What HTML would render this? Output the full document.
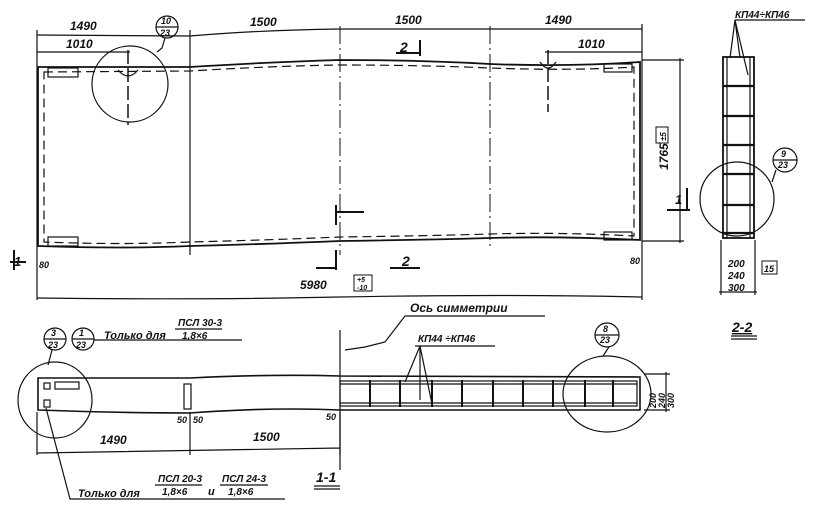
<!DOCTYPE html>
<html><head><meta charset="utf-8"><style>
html,body{margin:0;padding:0;background:#fff;width:817px;height:509px;overflow:hidden}
svg{display:block}
text{font-family:"Liberation Sans",sans-serif;font-style:italic;font-weight:bold;fill:#111}
</style></head><body>
<svg width="817" height="509" viewBox="0 0 817 509" xmlns="http://www.w3.org/2000/svg" stroke="#111" fill="none" stroke-width="1.2">
<!-- TOP PLAN -->
<!-- dimension lines -->
<path d="M37 35 L190 36 Q260 30 340 29 L490 29 L642 29"/>
<path d="M37 52 L130 52"/>
<path d="M37 30 V300 M190 30 V255 M642 24 V300"/>
<text x="70" y="30" font-size="12" stroke="none">1490</text>
<text x="250" y="26" font-size="12" stroke="none">1500</text>
<text x="395" y="24" font-size="12" stroke="none">1500</text>
<text x="545" y="24" font-size="12" stroke="none">1490</text>
<text x="66" y="48" font-size="12" stroke="none">1010</text>
<path d="M545 52 L642 52"/>
<text x="578" y="48" font-size="12" stroke="none">1010</text>
<!-- outline -->
<path d="M38 67 L190 67 Q270 62 340 60 Q420 60 490 64 Q570 67 640 62 L640 240 Q560 236 490 238 Q420 240 340 241 Q270 244 190 246 Q120 249 38 246 Z" stroke-width="1.8"/>
<path d="M44 72 L190 71 Q270 66 340 65 Q420 65 490 68 Q570 71 634 67 L634 236 Q560 232 490 234 Q420 236 340 237 Q270 240 190 242 Q120 245 44 242 Z" stroke-dasharray="9,5"/>
<!-- dash-dot verticals -->
<path d="M190 60 V252 M340 26 V255 M490 26 V250" stroke-dasharray="18,4,2,4" stroke-width="1"/>
<!-- corner rects -->
<rect x="48" y="68" width="30" height="9"/><rect x="48" y="237" width="30" height="9"/>
<rect x="604" y="64" width="28" height="8"/><rect x="604" y="232" width="28" height="8"/>
<!-- circle detail -->
<circle cx="130" cy="84" r="38"/>
<path d="M128 50 V125" stroke-dasharray="14,4" stroke-width="1.5"/>
<path d="M118 70 Q128 82 138 70"/>
<circle cx="167" cy="27" r="11"/><path d="M156 27 H178"/>
<text x="161" y="24" font-size="9" stroke="none">10</text><text x="160" y="36" font-size="9" stroke="none">23</text>
<path d="M165 38 L162 48 L157 52"/>
<path d="M548 50 V112" stroke-dasharray="14,4" stroke-width="1.5"/>
<path d="M540 62 Q548 74 556 62"/>
<!-- section marks -->
<path d="M336 205 V225 M336 212 H364" stroke-width="2"/>
<path d="M336 250 V270 M316 268 H336" stroke-width="2"/>
<path d="M396 53 H420 M420 40 V56" stroke-width="2"/>
<text x="400" y="52" font-size="14" stroke="none">2</text>
<path d="M390 268 H420" stroke-width="2"/>
<text x="402" y="266" font-size="14" stroke="none">2</text>
<path d="M10 262 H26 M14 250 V270" stroke-width="2"/>
<text x="14" y="266" font-size="13" stroke="none">1</text>
<path d="M667 210 H690 M687 188 V210" stroke-width="2"/>
<text x="675" y="204" font-size="13" stroke="none">1</text>
<!-- right dimension 1765 -->
<path d="M642 60 H684 M642 241 H684 M680 58 V243"/>
<text transform="translate(668,170) rotate(-90)" font-size="12" stroke="none">1765</text>
<rect x="656" y="127" width="12" height="16" stroke-width="1"/>
<text transform="translate(666,141) rotate(-90)" font-size="8" stroke="none">±5</text>
<!-- bottom dimension -->
<path d="M37 298 Q200 300 340 297 Q500 294 642 297"/>
<text x="300" y="289" font-size="12" stroke="none">5980</text>
<rect x="354" y="275" width="18" height="16" stroke-width="1"/>
<text x="357" y="282" font-size="7" stroke="none">+5</text><text x="357" y="290" font-size="7" stroke="none">-10</text>
<text x="39" y="268" font-size="9" stroke="none">80</text>
<text x="630" y="264" font-size="9" stroke="none">80</text>
<!-- SECTION 2-2 -->
<rect x="723" y="57" width="31" height="181" stroke-width="1.8"/>
<path d="M727 57 V238 M750 57 V238"/>
<path d="M723 86 H754 M723 116 H754 M723 145 H754 M723 174 H754 M723 205 H754 M723 233 H754" stroke-width="2.2"/>
<path d="M735 20 L730 58 M735 20 L740 58 M735 20 L748 75 M735 20 H805"/>
<text x="735" y="18" font-size="10" stroke="none">КП44÷КП46</text>
<circle cx="737" cy="199" r="37"/>
<circle cx="785" cy="160" r="12"/><path d="M773 160 H797"/>
<text x="781" y="157" font-size="9" stroke="none">9</text><text x="778" y="168" font-size="9" stroke="none">23</text>
<path d="M776 170 L772 182"/>
<path d="M721 240 V295 M755 240 V295 M719 292 H757"/>
<text x="728" y="267" font-size="10" stroke="none">200</text>
<text x="728" y="279" font-size="10" stroke="none">240</text>
<text x="728" y="291" font-size="10" stroke="none">300</text>
<rect x="762" y="261" width="15" height="13" stroke-width="1"/>
<text x="764" y="272" font-size="9" stroke="none">15</text>
<text x="732" y="332" font-size="14" stroke="none" text-decoration="underline">2-2</text>
<path d="M731 336 H757 M731 339 H757"/>
<!-- SECTION 1-1 -->
<path d="M38 378 Q120 378 190 378 Q270 374 340 376 L640 377 L640 410 L340 410 Q270 407 190 413 Q120 413 38 410 Z" stroke-width="1.6"/>
<rect x="340" y="381" width="297" height="25" stroke-width="1.2"/>
<path d="M340 384 H637 M340 403 H637"/>
<path d="M370 380 V407 M400 380 V407 M432 380 V407 M462 380 V407 M493 380 V407 M523 380 V407 M553 380 V407 M585 380 V407 M613 380 V407" stroke-width="2"/>
<rect x="184" y="384" width="7" height="25"/>
<rect x="44" y="383" width="6" height="6"/><rect x="44" y="400" width="6" height="7"/>
<rect x="55" y="382" width="24" height="7"/>
<ellipse cx="55" cy="400" rx="37" ry="38"/>
<ellipse cx="607" cy="394" rx="44" ry="38"/>
<circle cx="55" cy="339" r="11"/><path d="M44 339 H66"/>
<text x="51" y="336" font-size="9" stroke="none">3</text><text x="48" y="348" font-size="9" stroke="none">23</text>
<circle cx="83" cy="339" r="11"/><path d="M72 339 H94"/>
<text x="79" y="336" font-size="9" stroke="none">1</text><text x="76" y="348" font-size="9" stroke="none">23</text>
<path d="M94 340 H242"/>
<text x="104" y="339" font-size="11" stroke="none">Только для</text>
<text x="178" y="326" font-size="10" stroke="none">ПСЛ 30-3</text>
<path d="M175 329 H222"/>
<text x="182" y="339" font-size="10" stroke="none">1,8×6</text>
<path d="M52 350 L48 365"/>
<circle cx="607" cy="335" r="12"/><path d="M595 335 H619"/>
<text x="603" y="332" font-size="9" stroke="none">8</text><text x="600" y="343" font-size="9" stroke="none">23</text>
<path d="M609 347 L603 356"/>
<text x="410" y="312" font-size="12" stroke="none">Ось симметрии</text>
<path d="M405 316 H545 M405 316 L385 342 L365 347 L345 350"/>
<path d="M340 330 V470"/>
<text x="418" y="342" font-size="10" stroke="none">КП44 ÷КП46</text>
<path d="M415 346 H495 M420 346 L405 382 M420 346 L420 400 M420 346 L432 404"/>
<path d="M644 374 H670 M644 410 H670 M666 372 V412"/>
<text transform="translate(656,408) rotate(-90)" font-size="9" stroke="none">200</text>
<text transform="translate(665,408) rotate(-90)" font-size="9" stroke="none">240</text>
<text transform="translate(674,408) rotate(-90)" font-size="9" stroke="none">300</text>
<path d="M37 412 V455 M190 412 V455 M340 412 V455 M37 453 Q190 450 340 448"/>
<text x="100" y="444" font-size="12" stroke="none">1490</text>
<text x="253" y="441" font-size="12" stroke="none">1500</text>
<text x="177" y="423" font-size="9" stroke="none">50</text><text x="193" y="423" font-size="9" stroke="none">50</text>
<text x="326" y="420" font-size="9" stroke="none">50</text>
<text x="316" y="482" font-size="14" stroke="none">1-1</text>
<path d="M314 486 H340 M314 489 H340"/>
<path d="M46 408 L70 499 H285"/>
<text x="78" y="497" font-size="11" stroke="none">Только для</text>
<text x="158" y="482" font-size="10" stroke="none">ПСЛ 20-3</text>
<path d="M155 485 H202"/>
<text x="162" y="495" font-size="10" stroke="none">1,8×6</text>
<text x="208" y="495" font-size="11" stroke="none">и</text>
<text x="222" y="482" font-size="10" stroke="none">ПСЛ 24-3</text>
<path d="M220 485 H268"/>
<text x="228" y="495" font-size="10" stroke="none">1,8×6</text>
</svg>
</body></html>
